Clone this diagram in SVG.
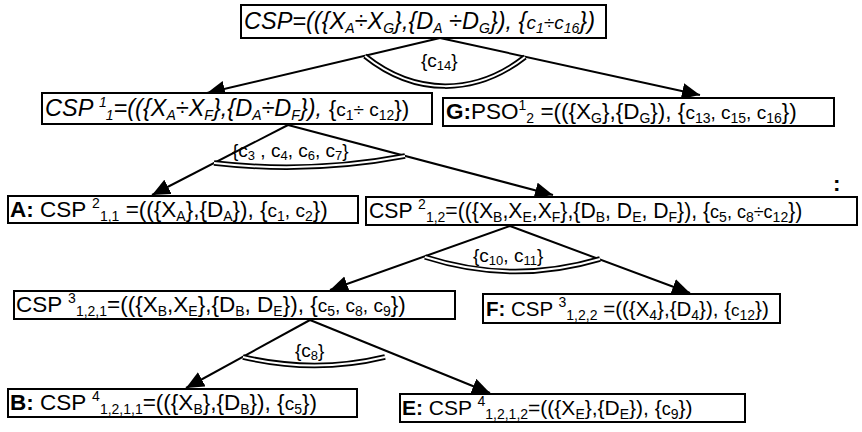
<svg xmlns="http://www.w3.org/2000/svg" width="862" height="432" viewBox="0 0 862 432">
<defs>
<marker id="ah" markerUnits="userSpaceOnUse" markerWidth="20" markerHeight="18" refX="18" refY="8" orient="auto"><path d="M0,0 L18,8 L0,16 z" fill="#000"/></marker>
<style>
.box{fill:#fff;stroke:#000;stroke-width:2}
.t{font-family:"Liberation Sans",Arial,sans-serif;font-size:22.5px;fill:#000}
.it{font-style:italic}
.b{font-weight:bold}
.sb{font-size:14px;baseline-shift:-4px}
.sp{font-size:14px;baseline-shift:9px}
.c{font-size:19px}
.lb{font-family:"Liberation Sans",Arial,sans-serif;font-size:19px;fill:#000}
.lb .sb{font-size:13px;baseline-shift:-3px}
.ln{stroke:#000;stroke-width:2;fill:none}
.aro{stroke:#000;stroke-width:5.5;fill:none}
.ari{stroke:#fff;stroke-width:2;fill:none}
</style>
</defs>
<rect width="862" height="432" fill="#fff"/>
<g id="connectors">
<line class="ln" x1="440" y1="38" x2="207" y2="93" marker-end="url(#ah)"/>
<line class="ln" x1="440" y1="38" x2="700" y2="95" marker-end="url(#ah)"/>
<path class="aro" d="M365,56 C415,96 475,96 525,57"/><path class="ari" d="M365,56 C415,96 475,96 525,57"/>
<line class="ln" x1="288" y1="125" x2="152" y2="195" marker-end="url(#ah)"/>
<line class="ln" x1="288" y1="125" x2="553" y2="195" marker-end="url(#ah)"/>
<path class="aro" d="M214,163 Q310,174 405,156"/><path class="ari" d="M214,163 Q310,174 405,156"/>
<line class="ln" x1="510" y1="226" x2="330" y2="290" marker-end="url(#ah)"/>
<line class="ln" x1="510" y1="226" x2="690" y2="293" marker-end="url(#ah)"/>
<path class="aro" d="M425,257 Q512,285 600,259"/><path class="ari" d="M425,257 Q512,285 600,259"/>
<line class="ln" x1="310" y1="320" x2="186" y2="388" marker-end="url(#ah)"/>
<line class="ln" x1="310" y1="320" x2="490" y2="393" marker-end="url(#ah)"/>
<path class="aro" d="M243,357 Q315,374 385,357"/><path class="ari" d="M243,357 Q315,374 385,357"/>
</g>
<g id="lbl1"><text class="lb" x="421" y="67">{c<tspan class="sb">14</tspan>}</text></g>
<g id="lbl2"><text class="lb" x="232" y="157">{c<tspan class="sb">3</tspan> , c<tspan class="sb">4</tspan>, c<tspan class="sb">6</tspan>, c<tspan class="sb">7</tspan>}</text></g>
<g id="lbl3"><text class="lb" x="473" y="262">{c<tspan class="sb">10</tspan>, c<tspan class="sb">11</tspan>}</text></g>
<g id="lbl4"><text class="lb" x="295" y="357">{c<tspan class="sb">8</tspan>}</text></g>
<g id="n0"><rect class="box" x="241" y="5" width="365" height="33"/>
<text class="t it" x="244" y="29" style="font-size:23.5px">CSP=(({X<tspan class="sb">A</tspan>÷X<tspan class="sb">G</tspan>},{D<tspan class="sb">A</tspan> ÷D<tspan class="sb">G</tspan>}), {<tspan class="c">c<tspan class="sb">1</tspan>÷c<tspan class="sb">16</tspan></tspan>})</text></g>
<g id="n1"><rect class="box" x="42" y="93" width="390" height="31"/>
<text class="t" x="45" y="116"><tspan class="it" style="font-size:23.5px">CSP <tspan class="sp">1</tspan><tspan class="sb">1</tspan>=(({X<tspan class="sb">A</tspan>÷X<tspan class="sb">F</tspan>},{D<tspan class="sb">A</tspan>÷D<tspan class="sb">F</tspan>}), </tspan>{<tspan class="c">c<tspan class="sb">1</tspan>÷ c<tspan class="sb">12</tspan></tspan>})</text></g>
<g id="nG"><rect class="box" x="443" y="98" width="391" height="28"/>
<text class="t" x="446" y="119"><tspan class="b">G:</tspan>PSO<tspan class="sp">1</tspan><tspan class="sb">2</tspan> =(({X<tspan class="sb">G</tspan>},{D<tspan class="sb">G</tspan>}), {<tspan class="c">c<tspan class="sb">13</tspan>, c<tspan class="sb">15</tspan>, c<tspan class="sb">16</tspan></tspan>})</text></g>
<g id="nA"><rect class="box" x="8" y="196" width="350" height="27"/>
<text class="t" x="10" y="217"><tspan class="b">A:</tspan> CSP <tspan class="sp">2</tspan><tspan class="sb">1,1</tspan> =(({X<tspan class="sb">A</tspan>},{D<tspan class="sb">A</tspan>}), {<tspan class="c">c<tspan class="sb">1</tspan>, c<tspan class="sb">2</tspan></tspan>})</text></g>
<g id="n12"><rect class="box" x="366" y="197" width="491" height="28"/>
<text class="t" x="369" y="218" style="font-size:21.2px">CSP <tspan class="sp">2</tspan><tspan class="sb">1,2</tspan>=(({X<tspan class="sb">B</tspan>,X<tspan class="sb">E</tspan>,X<tspan class="sb">F</tspan>},{D<tspan class="sb">B</tspan>, D<tspan class="sb">E</tspan>, D<tspan class="sb">F</tspan>}), {<tspan class="c" style="font-size:18px">c<tspan class="sb">5</tspan>, c<tspan class="sb">8</tspan>÷c<tspan class="sb">12</tspan></tspan>})</text></g>
<g id="colon"><text class="t b" x="833" y="191">:</text></g>
<g id="n121"><rect class="box" x="14" y="291" width="441" height="28"/>
<text class="t" x="16" y="312">CSP <tspan class="sp">3</tspan><tspan class="sb">1,2,1</tspan>=(({X<tspan class="sb">B</tspan>,X<tspan class="sb">E</tspan>},{D<tspan class="sb">B</tspan>, D<tspan class="sb">E</tspan>}), {<tspan class="c">c<tspan class="sb">5</tspan>, c<tspan class="sb">8</tspan>, c<tspan class="sb">9</tspan></tspan>})</text></g>
<g id="nF"><rect class="box" x="483" y="294" width="297" height="29"/>
<text class="t" x="486" y="316" style="font-size:20.5px"><tspan class="b">F:</tspan> CSP <tspan class="sp">3</tspan><tspan class="sb">1,2,2</tspan> =(({X<tspan class="sb">4</tspan>},{D<tspan class="sb">4</tspan>}), {<tspan class="c" style="font-size:17px">c<tspan class="sb">12</tspan></tspan>})</text></g>
<g id="nB"><rect class="box" x="8" y="389" width="349" height="28"/>
<text class="t" x="10" y="410"><tspan class="b">B:</tspan> CSP <tspan class="sp">4</tspan><tspan class="sb">1,2,1,1</tspan>=(({X<tspan class="sb">B</tspan>},{D<tspan class="sb">B</tspan>}), {<tspan class="c">c<tspan class="sb">5</tspan></tspan>})</text></g>
<g id="nE"><rect class="box" x="400" y="394" width="345" height="28"/>
<text class="t" x="402" y="415" style="font-size:21px"><tspan class="b">E:</tspan> CSP <tspan class="sp">4</tspan><tspan class="sb">1,2,1,2</tspan>=(({X<tspan class="sb">E</tspan>},{D<tspan class="sb">E</tspan>}), {<tspan class="c" style="font-size:18px">c<tspan class="sb">9</tspan></tspan>})</text></g>
</svg>
